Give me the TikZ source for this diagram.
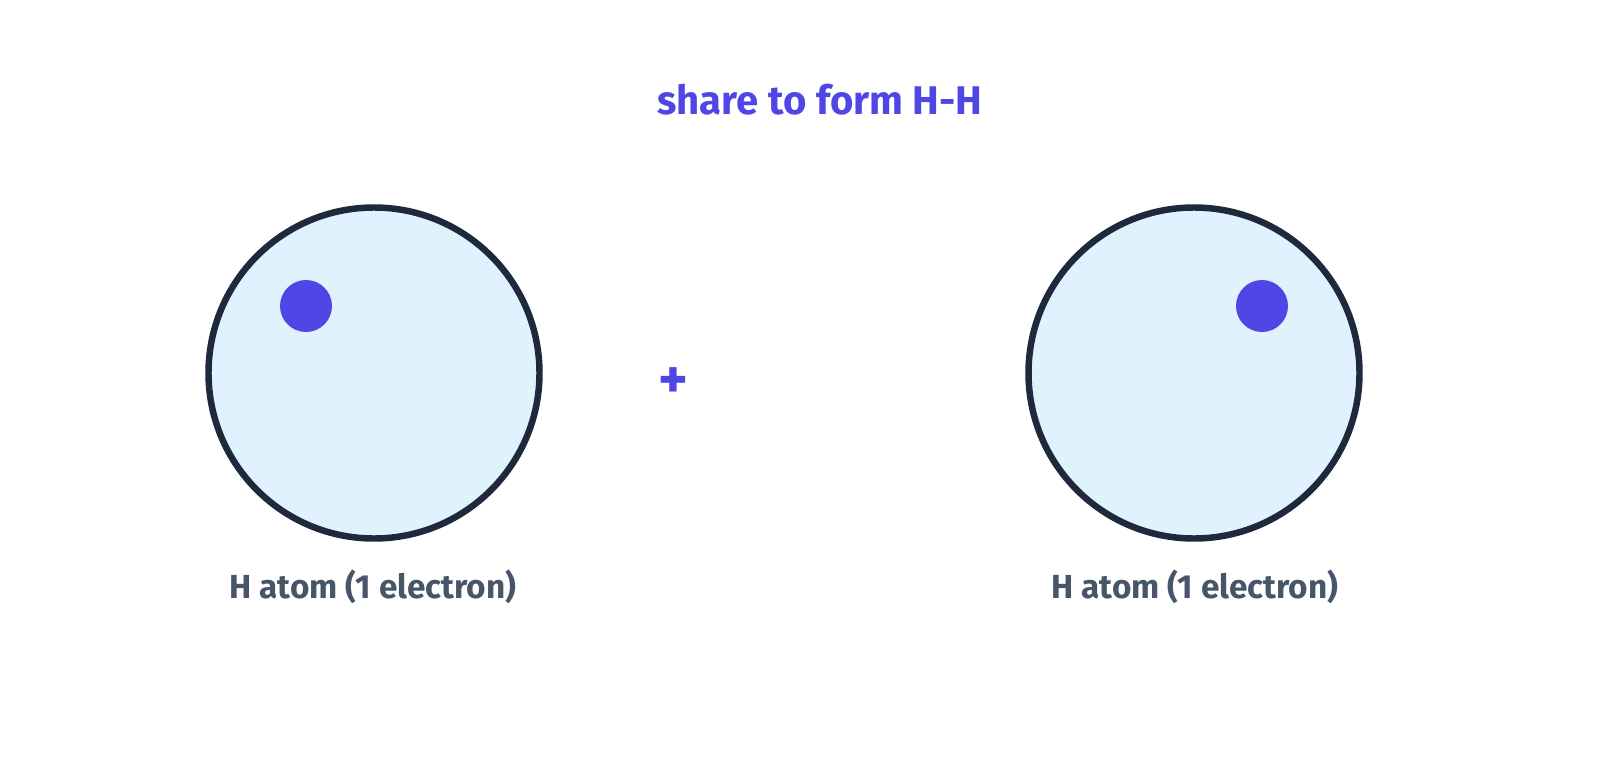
\documentclass[tikz,border=0pt]{standalone}
\usepackage{fontspec}
\setmainfont{Fira Sans}
\definecolor{atomfill}{HTML}{E0F2FE}
\definecolor{atomline}{HTML}{1E293B}
\definecolor{electron}{HTML}{4F46E5}
\definecolor{labeltext}{HTML}{475569}
\begin{document}
\begin{tikzpicture}[x=0.025cm,y=-0.025cm,
        atom/.style={circle,draw=atomline,fill=atomfill,line width=4.6pt,minimum size=331*0.025cm,inner sep=0pt},
        elec/.style={circle,fill=electron,minimum size=52*0.025cm,inner sep=0pt},
        atomlabel/.style={text=labeltext,font=\fontsize{23.7}{28}\selectfont\bfseries}]
        \useasboundingbox (0,0) rectangle (1600,762);
        \node[font=\fontsize{28.5}{34}\selectfont\bfseries, text=electron] (title) at (820,100) {share to form H-H};
        \node[atom] (atomA) at (374,373) {};
        \node[atom] (atomB) at (1194,373) {};
        \node[elec] (eA) at (306,306) {};
        \node[elec] (eB) at (1262,306) {};
        \node[font=\fontsize{40}{44}\selectfont\bfseries, text=electron] (plus) at (673,383) {+};
        \node[atomlabel] (labelA) at (373,587) {H atom (1 electron)};
        \node[atomlabel] (labelB) at (1195,587) {H atom (1 electron)};
      \end{tikzpicture}
\end{document}
